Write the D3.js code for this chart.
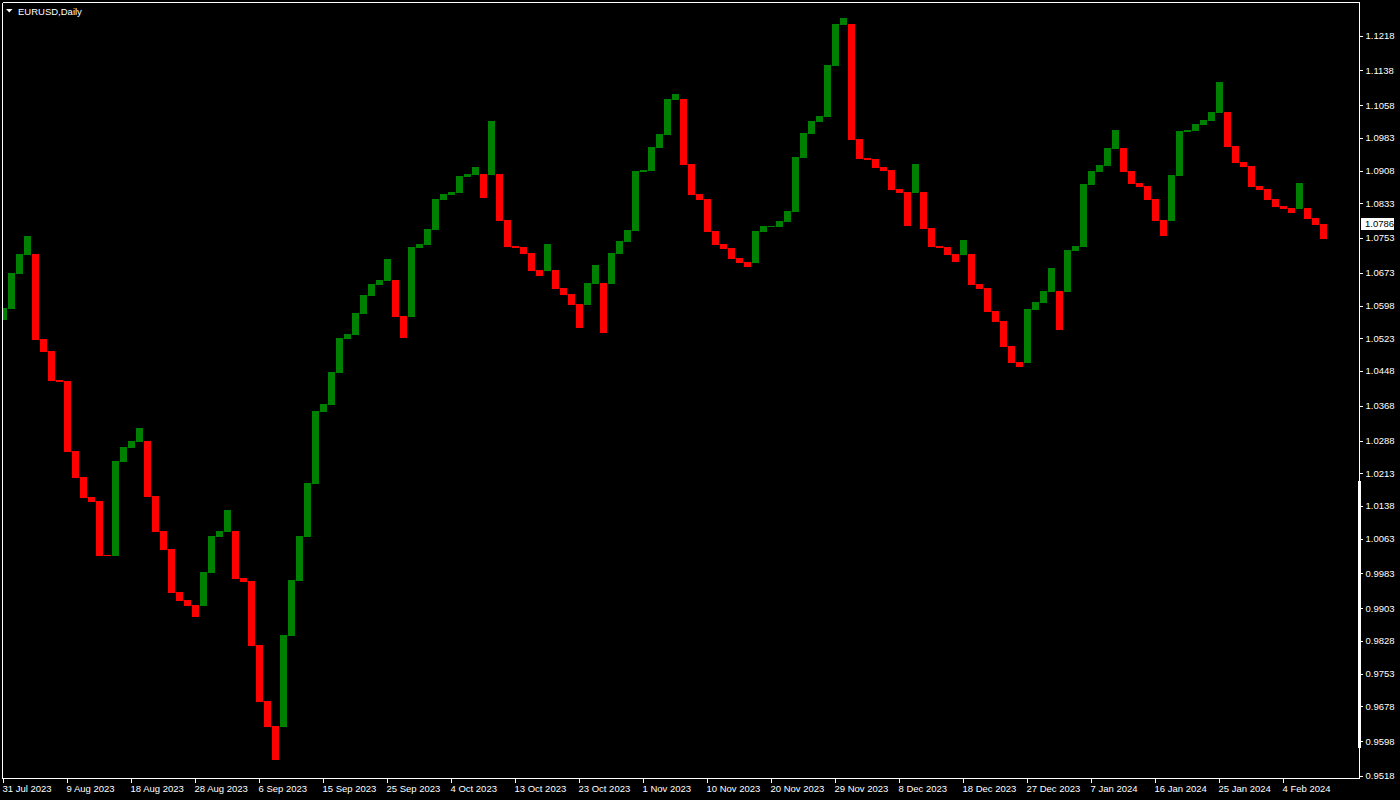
<!DOCTYPE html>
<html>
<head>
<meta charset="utf-8">
<script src="https://cdn.jsdelivr.net/npm/d3@7/dist/d3.min.js"></script>
<style>
  html, body { margin: 0; padding: 0; background: #000; }
  svg { display: block; }
</style>
</head>
<body>
<svg id="chart" width="1400" height="800"></svg>
<script>
// ---- data (EURUSD daily, open / close per bar) ----
const symbolTitle = "EURUSD,Daily";
const lastPrice = 1.0786;

const opens = [
1.05649,1.05901,1.06705,1.07141,1.07164,1.05213,1.04937,1.04271,1.04248,1.02641,
1.02044,1.01585,1.01494,1.00254,1.00231,1.02389,1.02710,1.02848,1.02871,1.01608,
1.00805,1.00392,0.99404,0.99221,0.99106,0.99083,0.99841,1.00667,1.00782,1.00805,
0.99726,0.99657,0.98188,0.96902,0.96328,0.96305,0.98394,0.99657,1.00667,1.01884,
1.03537,1.03697,1.04432,1.05213,1.05304,1.05787,1.06200,1.06452,1.06544,1.06567,
1.05741,1.05718,1.07302,1.07371,1.07715,1.08404,1.08518,1.08564,1.08932,1.08978,
1.09000,1.08978,1.09000,1.07945,1.07348,1.07325,1.07187,1.06797,1.06774,1.06797,
1.06383,1.06246,1.06016,1.05993,1.06475,1.06498,1.06475,1.07164,1.07439,1.07692,
1.09046,1.09069,1.09597,1.09896,1.10699,1.10722,1.09230,1.08541,1.08427,1.07692,
1.07394,1.07302,1.07072,1.06980,1.06957,1.07669,1.07784,1.07784,1.07899,1.08128,
1.09368,1.09919,1.10194,1.10309,1.11480,1.12421,1.12444,1.09804,1.09368,1.09345,
1.09161,1.09092,1.08656,1.08587,1.08564,1.08587,1.07761,1.07348,1.07325,1.07164,
1.07141,1.07164,1.06475,1.06383,1.05855,1.05626,1.05052,1.04685,1.04662,1.05878,
1.06039,1.06292,1.06315,1.06292,1.07233,1.07325,1.08748,1.09046,1.09184,1.09574,
1.09597,1.09069,1.08794,1.08725,1.08427,1.07945,1.07922,1.08955,1.09965,1.09988,
1.10125,1.10217,1.10401,1.10424,1.09643,1.09276,1.09184,1.08725,1.08656,1.08427,
1.08266,1.08220,1.08197,1.08220,1.07990,1.07853
];

const closes = [
1.05924,1.06728,1.07164,1.07577,1.05190,1.04914,1.04248,1.04225,1.02618,1.02022,
1.01562,1.01471,1.00231,1.00231,1.02412,1.02733,1.02871,1.03169,1.01585,1.00782,
1.00369,0.99382,0.99198,0.99083,0.98831,0.99864,1.00690,1.00805,1.01287,0.99703,
0.99634,0.98165,0.96879,0.96305,0.95548,0.98417,0.99680,1.00690,1.01907,1.03560,
1.03720,1.04455,1.05236,1.05327,1.05809,1.06223,1.06475,1.06567,1.07049,1.05718,
1.05236,1.07325,1.07394,1.07738,1.08427,1.08541,1.08587,1.08955,1.09000,1.09161,
1.08450,1.10217,1.07922,1.07325,1.07302,1.07164,1.06774,1.06659,1.07394,1.06360,
1.06223,1.05993,1.05465,1.06498,1.06911,1.05350,1.07187,1.07462,1.07715,1.09069,
1.09092,1.09620,1.09919,1.10722,1.10837,1.09207,1.08518,1.08404,1.07669,1.07371,
1.07279,1.07049,1.06957,1.06865,1.07692,1.07807,1.07807,1.07922,1.08151,1.09391,
1.09942,1.10217,1.10332,1.11503,1.12444,1.12582,1.09781,1.09345,1.09322,1.09138,
1.09069,1.08633,1.08564,1.07807,1.09230,1.07738,1.07325,1.07302,1.07141,1.06980,
1.07485,1.06452,1.06360,1.05832,1.05603,1.05029,1.04662,1.04570,1.05901,1.06062,
1.06315,1.06842,1.05419,1.07256,1.07348,1.08771,1.09069,1.09207,1.09597,1.10011,
1.09046,1.08771,1.08702,1.08404,1.07922,1.07577,1.08978,1.09988,1.10011,1.10148,
1.10240,1.10424,1.11113,1.09620,1.09253,1.09161,1.08702,1.08633,1.08404,1.08243,
1.08197,1.08105,1.08794,1.07967,1.07830,1.07508
];

const dateTickIndex = [0,8,16,24,32,40,48,56,64,72,80,88,96,104,112,120,128,136,144,152,160];
const dateTickLabels = ["31 Jul 2023","9 Aug 2023","18 Aug 2023","28 Aug 2023","6 Sep 2023",
  "15 Sep 2023","25 Sep 2023","4 Oct 2023","13 Oct 2023","23 Oct 2023","1 Nov 2023",
  "10 Nov 2023","20 Nov 2023","29 Nov 2023","8 Dec 2023","18 Dec 2023","27 Dec 2023",
  "7 Jan 2024","16 Jan 2024","25 Jan 2024","4 Feb 2024"];

const priceTickLabels = ["1.1218","1.1138","1.1058","1.0983","1.0908","1.0833","1.0753",
  "1.0673","1.0598","1.0523","1.0448","1.0368","1.0288","1.0213","1.0138","1.0063",
  "0.9983","0.9903","0.9828","0.9753","0.9678","0.9598","0.9518"];

// ---- layout ----
const W = 1400, H = 800;
const plot = { left: 2.5, top: 2.5, right: 1359.5, bottom: 778.5 };
const FONT = "'Liberation Sans', Arial, 'DejaVu Sans', sans-serif";
const FS = "9.5px";
const UP = "#008000", DOWN = "#ff0000";

const svg = d3.select("#chart");
svg.append("rect").attr("width", W).attr("height", H).attr("fill", "#000");

const n = opens.length;
const x = d3.scaleBand().domain(d3.range(n)).range([0, 1327]).paddingInner(0.125).paddingOuter(0);
const y = d3.scaleLinear().domain([0.946294, 1.12995]).range([800, 0]);

svg.append("clipPath").attr("id", "clip")
  .append("rect").attr("x", 3).attr("y", 3).attr("width", 1356).attr("height", 775);

const bars = d3.range(n).map(i => ({ i, o: opens[i], c: closes[i] }));

svg.append("g").attr("clip-path", "url(#clip)")
  .selectAll("rect").data(bars).join("rect")
  .attr("shape-rendering", "crispEdges")
  .attr("x", d => x(d.i))
  .attr("width", x.bandwidth())
  .attr("y", d => Math.round(y(Math.max(d.o, d.c))))
  .attr("height", d => Math.max(1, Math.round(y(Math.min(d.o, d.c))) - Math.round(y(Math.max(d.o, d.c)))))
  .attr("fill", d => d.c >= d.o ? UP : DOWN);

// ---- frame ----
const frame = svg.append("g").attr("stroke", "#fff").attr("stroke-width", 1).attr("shape-rendering", "crispEdges");
frame.append("line").attr("x1", plot.left).attr("x2", plot.right).attr("y1", plot.top).attr("y2", plot.top);
frame.append("line").attr("x1", plot.left).attr("x2", plot.right).attr("y1", plot.bottom).attr("y2", plot.bottom);
frame.append("line").attr("x1", plot.left).attr("x2", plot.left).attr("y1", plot.top).attr("y2", plot.bottom);
frame.append("line").attr("x1", plot.right).attr("x2", plot.right).attr("y1", plot.top).attr("y2", plot.bottom);

// scroll marker on price axis
svg.append("rect").attr("x", 1358).attr("y", 481).attr("width", 3).attr("height", 267).attr("fill", "#fff");

// ---- price axis ----
const yAxis = d3.axisRight(y)
  .tickValues(priceTickLabels.map(Number))
  .tickFormat((d, i) => priceTickLabels[i])
  .tickSize(3).tickPadding(2).offset(0);
const gy = svg.append("g").attr("transform", `translate(${plot.right + 0.5},0)`).call(yAxis);
gy.select(".domain").remove();
gy.selectAll(".tick line").attr("stroke", "#fff").attr("shape-rendering", "crispEdges")
  .attr("transform", "translate(0,0.5)");
gy.selectAll(".tick text").attr("fill", "#fff").attr("font-family", FONT).attr("font-size", FS)
  .attr("x", 5.5).attr("dy", "0.36em");

// ---- last price tag ----
const py = y(lastPrice);
svg.append("rect").attr("x", 1361).attr("y", Math.round(py) - 6).attr("width", 33).attr("height", 12).attr("fill", "#fff");
svg.append("text").attr("x", 1365).attr("y", py).attr("dy", "0.36em")
  .attr("font-family", FONT).attr("font-size", FS).attr("fill", "#000").text(lastPrice.toFixed(4));

// ---- date axis ----
const xAxis = d3.axisBottom(x)
  .tickValues(dateTickIndex)
  .tickFormat((d, i) => dateTickLabels[i])
  .tickSize(4).tickPadding(2).offset(0);
const gx = svg.append("g").attr("transform", `translate(0,${plot.bottom + 0.5})`).call(xAxis);
gx.select(".domain").remove();
gx.selectAll(".tick line").attr("stroke", "#fff").attr("shape-rendering", "crispEdges");
gx.selectAll(".tick text").attr("fill", "#fff").attr("font-family", FONT).attr("font-size", FS)
  .attr("text-anchor", "start").attr("x", -1).attr("y", 6).attr("dy", "0.72em");

// ---- title ----
svg.append("path").attr("d", "M6,9 L12.5,9 L9.25,12.5 Z").attr("fill", "#fff");
svg.append("text").attr("x", 18).attr("y", 14.5)
  .attr("font-family", FONT).attr("font-size", FS).attr("fill", "#fff").text(symbolTitle);
</script>
</body>
</html>
